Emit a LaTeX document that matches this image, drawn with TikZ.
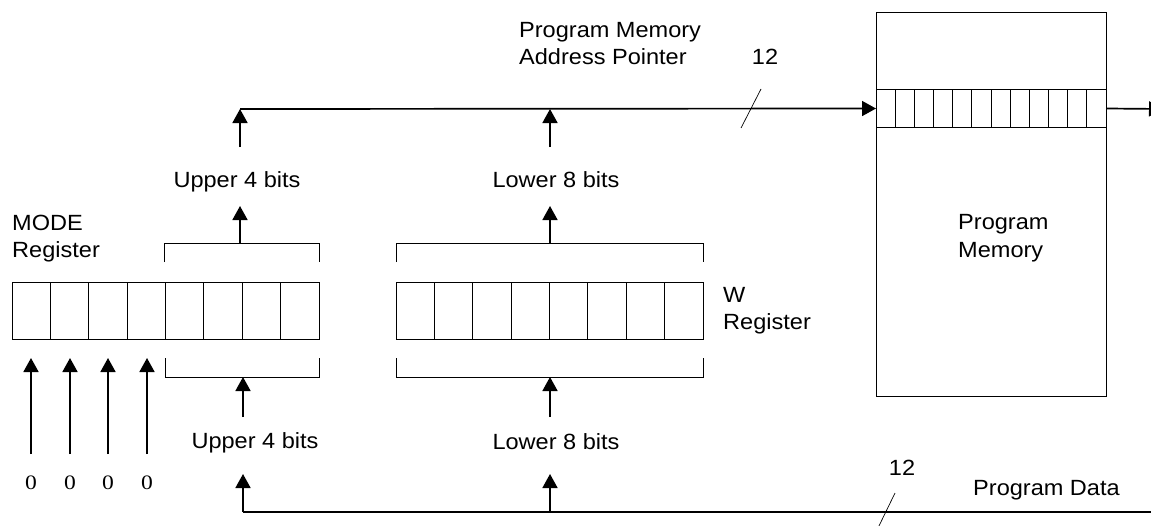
\documentclass[tikz,border=0pt]{standalone}
\usepackage{fontspec}
\setmainfont{Liberation Sans}[FakeStretch=1.07]
\newfontfamily\zerofont{Liberation Serif}[FakeStretch=1.15]
\usetikzlibrary{arrows.meta,calc}
\begin{document}
\begin{tikzpicture}[x=1pt,y=-1pt,
  thin box/.style={draw,line width=1pt},
  bus/.style={line width=1.7pt},
  uparrow/.style={line width=1.7pt,-{Triangle[width=15pt,length=14pt]}},
  slash/.style={line width=0.7pt},
  lbl/.style={inner sep=0pt,font=\fontsize{22}{26}\selectfont},
  zero/.style={inner sep=0pt,font=\zerofont\fontsize{20.5}{24}\selectfont,anchor=base}]
\useasboundingbox (0,0) rectangle (1151,525);

% ---------- Program memory ----------
\node[thin box,minimum width=230pt,minimum height=384pt,inner sep=0pt,anchor=north west] (mem) at (876,12) {};
\node[thin box,minimum width=230pt,minimum height=38pt,inner sep=0pt,anchor=north west] (band) at (876,89) {};
\foreach \k in {1,...,11}{
  \draw[line width=1pt] ($(band.north west)+(\k*230/12,0)$) -- ($(band.south west)+(\k*230/12,0)$);
}
\node[lbl,anchor=base west] (pm1) at (958,229) {Program};
\node[lbl,anchor=base west] (pm2) at (958,257) {Memory};

% ---------- MODE register ----------
\node[thin box,minimum width=307pt,minimum height=57pt,inner sep=0pt,anchor=north west] (mode) at (12,282) {};
\foreach \k in {1,...,7}{
  \draw[line width=1pt] ($(mode.north west)+(\k*307/8,0)$) -- ($(mode.south west)+(\k*307/8,0)$);
}
\node[lbl,anchor=base west] (mode1) at (12,230) {MODE};
\node[lbl,anchor=base west] (mode2) at (12,257) {Register};

% ---------- W register ----------
\node[thin box,minimum width=307pt,minimum height=57pt,inner sep=0pt,anchor=north west] (wreg) at (396,282) {};
\foreach \k in {1,...,7}{
  \draw[line width=1pt] ($(wreg.north west)+(\k*307/8,0)$) -- ($(wreg.south west)+(\k*307/8,0)$);
}
\node[lbl,anchor=base west] (w1) at (723,302) {W};
\node[lbl,anchor=base west] (w2) at (723,329) {Register};

% ---------- brackets ----------
\draw[line width=1pt] (164,262) -- (164,243) -- (319,243) -- (319,262);
\draw[line width=1pt] (396,262) -- (396,243) -- (703,243) -- (703,262);
\draw[line width=1pt] (165,358) -- (165,377) -- (319,377) -- (319,358);
\draw[line width=1pt] (396,358) -- (396,377) -- (703,377) -- (703,358);

\coordinate (mUb) at (240,243);
\coordinate (wUb) at (550,243);
\coordinate (mLb) at (243,377);
\coordinate (wLb) at (550,377);

% upward arrows from upper brackets
\coordinate (mUt) at (240,206);
\coordinate (wUt) at (550,206);
\draw[uparrow] (mUb) -- (mUt);
\draw[uparrow] (wUb) -- (wUt);
\node[lbl,anchor=base] (up1) at (237,187) {Upper 4 bits};
\node[lbl,anchor=base] (lo1) at (556,187) {Lower 8 bits};

% ---------- top bus ----------
\coordinate (tb1) at (240,109);
\coordinate (tb2) at (550,109);
\coordinate (ta1) at (240,147);
\coordinate (ta2) at (550,147);
\draw[uparrow] (ta1) -- (tb1);
\draw[uparrow] (ta2) -- (tb2);
\draw[bus,-{Triangle[width=15pt,length=14pt]}] (tb1) -- (band.west);
\coordinate (rout) at (1163,109);
\draw[bus,-{Triangle[width=15pt,length=14pt]}] (band.east) -- (rout);
\draw[slash] (761,89) -- (741,128);
\node[lbl,anchor=base west] (pa1) at (519,37) {Program Memory};
\node[lbl,anchor=base west] (pa2) at (519,64) {Address Pointer};
\node[lbl,anchor=base] (n12a) at (765,64) {12};

% ---------- lower arrows into registers ----------
\coordinate (mLa) at (243,417);
\coordinate (wLa) at (550,417);
\draw[uparrow] (mLa) -- (mLb);
\draw[uparrow] (wLa) -- (wLb);
\node[lbl,anchor=base] (up2) at (255,448) {Upper 4 bits};
\node[lbl,anchor=base] (lo2) at (556,449) {Lower 8 bits};

% zeros
\foreach \x/\n in {31/z1,70/z2,108/z3,147/z4}{
  \draw[uparrow] (\x,454) -- (\x,358);
  \node[zero] (\n) at (\x,489) {0};
}

% ---------- bottom bus ----------
\coordinate (bb1) at (243,512);
\coordinate (bb2) at (550,512);
\coordinate (bbe) at (1151,512);
\draw[bus] (bb1) -- (bbe);
\draw[uparrow] (bb1) -- (243,474);
\draw[uparrow] (bb2) -- (550,474);
\draw[slash] (895,493) -- (877,530);
\node[lbl,anchor=base] (n12b) at (902,475) {12};
\node[lbl,anchor=base west] (pd) at (973,495) {Program Data};
\end{tikzpicture}
\end{document}
